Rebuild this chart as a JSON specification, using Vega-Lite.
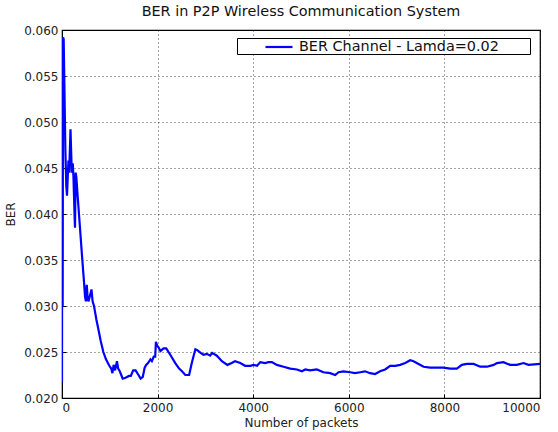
{
  "$schema": "https://vega.github.io/schema/vega-lite/v6.json",
  "width": 478,
  "height": 368,
  "autosize": {"type": "none"},
  "padding": {"left": 62, "top": 30, "right": 18, "bottom": 34},
  "background": "white",
  "title": {
    "text": "BER in P2P Wireless Communication System",
    "fontSize": 14.4,
    "fontWeight": "normal",
    "font": "DejaVu Sans",
    "color": "#111111",
    "anchor": "middle",
    "offset": 5
  },
  "config": {
    "view": {"stroke": "black", "strokeWidth": 1.2},
    "font": "DejaVu Sans",
    "axis": {
      "domainColor": "black",
      "gridColor": "black",
      "gridDash": [1, 3],
      "gridOpacity": 0.7,
      "gridWidth": 1,
      "tickColor": "black",
      "tickSize": -4,
      "labelFontSize": 12,
      "labelColor": "#222222",
      "labelFont": "DejaVu Sans",
      "titleFont": "DejaVu Sans",
      "titleFontSize": 12,
      "titleFontWeight": "normal",
      "titleColor": "#222222"
    }
  },
  "data": {
    "values": [
      {"x": 0, "y": 0.0217}, {"x": 6, "y": 0.0592}, {"x": 14, "y": 0.0300}, {"x": 22, "y": 0.0592},
      {"x": 35, "y": 0.0590}, {"x": 50, "y": 0.0540}, {"x": 70, "y": 0.0470}, {"x": 90, "y": 0.0430},
      {"x": 105, "y": 0.0420}, {"x": 120, "y": 0.0440}, {"x": 135, "y": 0.0458}, {"x": 150, "y": 0.0445},
      {"x": 165, "y": 0.0470}, {"x": 178, "y": 0.0492}, {"x": 190, "y": 0.0470}, {"x": 205, "y": 0.0445},
      {"x": 225, "y": 0.0455}, {"x": 240, "y": 0.0440}, {"x": 262, "y": 0.0400}, {"x": 272, "y": 0.0385},
      {"x": 285, "y": 0.0445}, {"x": 300, "y": 0.0440}, {"x": 320, "y": 0.0425}, {"x": 355, "y": 0.0400},
      {"x": 390, "y": 0.0375}, {"x": 425, "y": 0.0350}, {"x": 455, "y": 0.0330}, {"x": 482, "y": 0.0310},
      {"x": 500, "y": 0.0305}, {"x": 518, "y": 0.0323}, {"x": 535, "y": 0.0310}, {"x": 553, "y": 0.0305},
      {"x": 580, "y": 0.0310}, {"x": 617, "y": 0.0318}, {"x": 640, "y": 0.0305}, {"x": 670, "y": 0.0300},
      {"x": 720, "y": 0.0285}, {"x": 760, "y": 0.0275}, {"x": 810, "y": 0.0262}, {"x": 865, "y": 0.0250},
      {"x": 920, "y": 0.0242}, {"x": 990, "y": 0.0235}, {"x": 1030, "y": 0.0232}, {"x": 1055, "y": 0.0227},
      {"x": 1080, "y": 0.0236}, {"x": 1110, "y": 0.0230}, {"x": 1150, "y": 0.0240}, {"x": 1175, "y": 0.0232},
      {"x": 1200, "y": 0.0230}, {"x": 1240, "y": 0.0225}, {"x": 1270, "y": 0.0221}, {"x": 1330, "y": 0.0222},
      {"x": 1400, "y": 0.0224}, {"x": 1440, "y": 0.0224}, {"x": 1490, "y": 0.0230}, {"x": 1540, "y": 0.0230},
      {"x": 1600, "y": 0.0225}, {"x": 1645, "y": 0.0221}, {"x": 1690, "y": 0.0223}, {"x": 1730, "y": 0.0233},
      {"x": 1760, "y": 0.0236}, {"x": 1800, "y": 0.0238}, {"x": 1850, "y": 0.0242}, {"x": 1880, "y": 0.0240},
      {"x": 1920, "y": 0.0245}, {"x": 1950, "y": 0.0245}, {"x": 1965, "y": 0.0261}, {"x": 1990, "y": 0.0257},
      {"x": 2020, "y": 0.0255}, {"x": 2060, "y": 0.0251}, {"x": 2125, "y": 0.0254}, {"x": 2180, "y": 0.0254},
      {"x": 2265, "y": 0.0247}, {"x": 2370, "y": 0.0238}, {"x": 2450, "y": 0.0232}, {"x": 2510, "y": 0.0229},
      {"x": 2580, "y": 0.0225}, {"x": 2660, "y": 0.0225}, {"x": 2715, "y": 0.0238}, {"x": 2790, "y": 0.0253},
      {"x": 2830, "y": 0.0252}, {"x": 2900, "y": 0.0249}, {"x": 2960, "y": 0.0247}, {"x": 3030, "y": 0.0248},
      {"x": 3100, "y": 0.0246}, {"x": 3140, "y": 0.0249}, {"x": 3240, "y": 0.0246}, {"x": 3345, "y": 0.0240},
      {"x": 3460, "y": 0.0236}, {"x": 3550, "y": 0.0238}, {"x": 3620, "y": 0.0240}, {"x": 3730, "y": 0.0238},
      {"x": 3830, "y": 0.0235}, {"x": 3940, "y": 0.0235}, {"x": 4010, "y": 0.0236}, {"x": 4080, "y": 0.0235},
      {"x": 4150, "y": 0.0239}, {"x": 4250, "y": 0.0238}, {"x": 4320, "y": 0.0239}, {"x": 4390, "y": 0.0239},
      {"x": 4495, "y": 0.0236}, {"x": 4635, "y": 0.0234}, {"x": 4775, "y": 0.0232}, {"x": 4915, "y": 0.0231},
      {"x": 5020, "y": 0.0229}, {"x": 5090, "y": 0.0231}, {"x": 5190, "y": 0.0230}, {"x": 5330, "y": 0.0231},
      {"x": 5470, "y": 0.0228}, {"x": 5610, "y": 0.0227}, {"x": 5715, "y": 0.0225}, {"x": 5785, "y": 0.0228},
      {"x": 5890, "y": 0.0229}, {"x": 6030, "y": 0.0228}, {"x": 6130, "y": 0.0227}, {"x": 6240, "y": 0.0228},
      {"x": 6340, "y": 0.0229}, {"x": 6445, "y": 0.0227}, {"x": 6550, "y": 0.0226}, {"x": 6655, "y": 0.0229},
      {"x": 6760, "y": 0.0231}, {"x": 6865, "y": 0.0235}, {"x": 6970, "y": 0.0235}, {"x": 7075, "y": 0.0236},
      {"x": 7180, "y": 0.0238}, {"x": 7285, "y": 0.0241}, {"x": 7355, "y": 0.0240}, {"x": 7460, "y": 0.0237},
      {"x": 7565, "y": 0.0234}, {"x": 7700, "y": 0.0233}, {"x": 7840, "y": 0.0233}, {"x": 7980, "y": 0.0233},
      {"x": 8120, "y": 0.0232}, {"x": 8260, "y": 0.0232}, {"x": 8365, "y": 0.0236}, {"x": 8470, "y": 0.0237},
      {"x": 8610, "y": 0.0237}, {"x": 8750, "y": 0.0234}, {"x": 8890, "y": 0.0234}, {"x": 9030, "y": 0.0236},
      {"x": 9100, "y": 0.0238}, {"x": 9235, "y": 0.0239}, {"x": 9375, "y": 0.0236}, {"x": 9515, "y": 0.0236},
      {"x": 9655, "y": 0.0238}, {"x": 9760, "y": 0.0236}, {"x": 10000, "y": 0.0237}
    ]
  },
  "transform": [{"calculate": "'BER Channel - Lamda=0.02'", "as": "series"}],
  "mark": {"type": "line", "strokeWidth": 2.2, "clip": true, "interpolate": "linear"},
  "encoding": {
    "x": {
      "field": "x",
      "type": "quantitative",
      "scale": {"domain": [0, 10000], "nice": false},
      "axis": {"values": [0, 2000, 4000, 6000, 8000, 10000], "format": "d", "title": "Number of packets", "labelPadding": 8, "titlePadding": 4}
    },
    "y": {
      "field": "y",
      "type": "quantitative",
      "scale": {"domain": [0.02, 0.06], "nice": false, "zero": false},
      "axis": {"values": [0.02, 0.025, 0.03, 0.035, 0.04, 0.045, 0.05, 0.055, 0.06], "format": ".3f", "title": "BER", "labelPadding": 8, "titlePadding": 6}
    },
    "color": {
      "field": "series",
      "type": "nominal",
      "scale": {"range": ["#0000ff"]},
      "legend": {
        "title": " ",
        "titleOrient": "right",
        "titlePadding": 31,
        "titleFontSize": 1,
        "orient": "none",
        "legendX": 175,
        "legendY": 8,
        "symbolType": "M-1.8,0H1.8",
        "symbolStrokeWidth": 2.2,
        "symbolSize": 225,
        "symbolOffset": 33,
        "labelOffset": 11,
        "labelLimit": 400,
        "labelFontSize": 14.4,
        "labelColor": "#111111",
        "labelFont": "DejaVu Sans",
        "strokeColor": "black",
        "fillColor": "white",
        "padding": 0
      }
    }
  }
}
